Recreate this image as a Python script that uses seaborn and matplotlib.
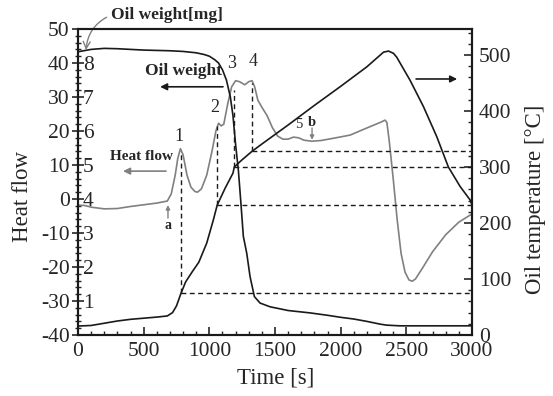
import matplotlib
matplotlib.use("Agg")
import matplotlib.pyplot as plt
import seaborn as sns
from matplotlib.ticker import MultipleLocator
from matplotlib.transforms import blended_transform_factory, offset_copy

# ---------------- data ----------------
hf_time = [0, 50, 100, 200, 300, 400, 500, 600, 680, 710, 740, 760, 780, 800, 830,
           860, 890, 910, 940, 980, 1020, 1050, 1070, 1090, 1110, 1140, 1170, 1200,
           1230, 1270, 1300, 1325, 1345, 1370, 1400, 1440, 1480, 1520, 1560, 1600,
           1640, 1680, 1720, 1780, 1850, 1950, 2072, 2200, 2300, 2338, 2352, 2370,
           2400, 2430, 2460, 2490, 2520, 2545, 2570, 2620, 2700, 2800, 2900, 3000]
hf_val = [-1.8, -1.9, -2.4, -2.9, -2.8, -2.2, -1.7, -1.2, -0.6, 1.5, 7, 12, 14.8, 13,
          7, 3.5, 2.2, 2, 3, 7, 14, 20, 22.3, 21.5, 22, 28, 33, 34.8, 34.5, 33.6,
          34.5, 34.8, 33, 29, 27, 24.5, 21, 18.5, 17.6, 17.6, 18.2, 18.0, 17.3, 17.0,
          17.2, 17.9, 18.8, 20.9, 22.5, 23.2, 22.5, 17, 6, -6, -16, -21.5, -23.8,
          -24.2, -23.5, -20.5, -15.5, -10.5, -6.8, -4.4]

# oil weight, expressed on the heat-flow scale (weight[mg] = (value + 40) / 10)
wt_time = [0, 100, 200, 300, 400, 500, 600, 700, 800, 900, 960, 1000, 1040, 1070,
           1100, 1130, 1160, 1180, 1200, 1221, 1240, 1259, 1285, 1310, 1343, 1386,
           1462, 1600, 1767, 1900, 2000, 2100, 2200, 2300, 2350, 2450, 3000]
wt_val = [43.3, 44.0, 44.3, 44.2, 44.0, 43.8, 43.7, 43.6, 43.4, 43.0, 42.5, 42.0,
          41.0, 40.0, 38.0, 35.0, 30.0, 24.5, 16.0, 8.5, -1.0, -11.0, -16.0, -22.8,
          -28.7, -30.6, -31.7, -32.8, -33.5, -34.2, -34.8, -35.3, -36.0, -36.8,
          -37.1, -37.3, -37.3]

temp_time = [0, 100, 200, 300, 400, 500, 600, 680, 720, 750, 785, 820, 870, 920,
             980, 1030, 1060, 1120, 1180, 1190, 1250, 1325, 1400, 1600, 1800, 2000,
             2200, 2326, 2364, 2402, 2427, 2528, 2630, 2732, 2820, 2910, 2986, 3000]
temp_val = [16, 17, 21, 25, 28, 30, 32, 34, 40, 52, 75, 95, 113, 130, 164, 205, 232,
            262, 289, 300, 313, 328, 341, 375, 410, 444, 479, 505, 507, 503, 496,
            455, 408, 354, 300, 265, 241, 232]

peak_time = [785, 1060, 1190, 1325]
peak_top = [13.5, 21.5, 32.0, 34.0]
peak_temp = [75, 232, 300, 328]
peak_labels = ["1", "2", "3", "4"]
peak_label_pos = [(769, 18.5), (1043, 26.8), (1173, 40.0), (1333, 40.3)]

hf_ticks = [-40, -30, -20, -10, 0, 10, 20, 30, 40, 50]
weight_ticks = [1, 2, 3, 4, 5, 6, 7, 8]
temp_ticks = [0, 100, 200, 300, 400, 500]
time_ticks = [0, 500, 1000, 1500, 2000, 2500, 3000]

# ---------------- style ----------------
sns.set_style("ticks")
plt.rcParams["font.family"] = ["Liberation Serif", "DejaVu Serif"]
plt.rcParams["axes.unicode_minus"] = False

HF_MIN, HF_MAX = -40, 50
T_MAX = 546.4
GRAY = "#808080"
DARK = "#1a1a1a"
TICK_FS = 15.5
LABEL_FS = 16.5


def t_to_hf(t):
    return HF_MIN + t * (HF_MAX - HF_MIN) / T_MAX


fig = plt.figure(figsize=(5.53, 3.96), dpi=100)
ax = fig.add_axes([78 / 553, 1 - 335 / 396, 394 / 553, 306 / 396])
ax2 = ax.twinx()

ax.set_xlim(0, 3000)
ax.set_ylim(HF_MIN, HF_MAX)
ax2.set_ylim(0, T_MAX)

sns.lineplot(x=hf_time, y=hf_val, ax=ax, color=GRAY, lw=1.2, estimator=None, sort=False)
sns.lineplot(x=wt_time, y=wt_val, ax=ax, color=DARK, lw=1.2, estimator=None, sort=False)
sns.lineplot(x=temp_time, y=temp_val, ax=ax2, color=DARK, lw=1.2, estimator=None, sort=False)

dash = (0, (3.5, 2.5))
for pt, top, tv in zip(peak_time, peak_top, peak_temp):
    ax.plot([pt, pt], [t_to_hf(tv), top], color=DARK, lw=1.0, ls=dash)
    ax2.plot([pt, 3000], [tv, tv], color=DARK, lw=1.0, ls=dash)

for lab, (x, y) in zip(peak_labels, peak_label_pos):
    ax.text(x, y, lab, ha="center", va="center", fontsize=13)

# ---------------- axes ----------------
ax.set_xticks(time_ticks)
ax.xaxis.set_minor_locator(MultipleLocator(100))
ax.set_yticks(hf_ticks)
ax.yaxis.set_minor_locator(MultipleLocator(2))
ax2.set_yticks(temp_ticks)
ax2.yaxis.set_minor_locator(MultipleLocator(20))

ax.tick_params(axis="x", which="major", direction="in", length=6, width=1.2,
               labelsize=TICK_FS, pad=5)
ax.tick_params(axis="x", which="minor", direction="in", length=3, width=1.0)
ax.tick_params(axis="y", which="major", direction="inout", length=8, width=1.2,
               labelsize=TICK_FS, pad=2)
ax.tick_params(axis="y", which="minor", direction="inout", length=5, width=1.0)
ax2.tick_params(axis="y", which="major", direction="in", length=6, width=1.2,
                labelsize=TICK_FS, pad=5)
ax2.tick_params(axis="y", which="minor", direction="in", length=3, width=1.0)

for a in (ax, ax2):
    for s in a.spines.values():
        s.set_linewidth(1.5)
        s.set_color(DARK)

trans_w = offset_copy(blended_transform_factory(ax.transAxes, ax.transData),
                      fig=fig, x=5, y=0, units="dots")
for w in weight_ticks:
    ax.text(0, w * 10 - 40, str(w), transform=trans_w, ha="left",
            va="center_baseline", fontsize=TICK_FS)

ax.set_xlabel("Time [s]", fontsize=LABEL_FS)
ax.set_ylabel("Heat flow", fontsize=LABEL_FS)
ax2.set_ylabel("Oil temperature [°C]", fontsize=LABEL_FS)
ax.xaxis.set_label_coords(0.503, -0.105)
ax.yaxis.set_label_coords(-0.115, 0.451)
ax2.yaxis.set_label_coords(1.135, 0.444)

# ---------------- annotations ----------------
ax.annotate("Oil weight[mg]", xy=(61, 43.8), xytext=(678, 54.1), ha="center",
            va="center", fontsize=12.5, fontweight="bold", annotation_clip=False,
            arrowprops=dict(arrowstyle="->", color=GRAY, lw=1.0, relpos=(0, 0.5),
                            connectionstyle="arc3,rad=0.3", shrinkA=1, shrinkB=0))

ax.text(800, 37.6, "Oil weight", ha="center", va="center", fontsize=12.5,
        fontweight="bold")
ax.annotate("", xy=(625, 33), xytext=(1104, 33),
            arrowprops=dict(arrowstyle="-|>", color=DARK, lw=1.2, mutation_scale=10,
                            shrinkA=0, shrinkB=0))

ax.text(480, 12.4, "Heat flow", ha="center", va="center", fontsize=11,
        fontweight="bold")
ax.annotate("", xy=(343, 8.2), xytext=(670, 8.2),
            arrowprops=dict(arrowstyle="-|>", color=GRAY, lw=1.2, mutation_scale=10,
                            shrinkA=0, shrinkB=0))

ax.annotate("", xy=(2887, 35.3), xytext=(2574, 35.3),
            arrowprops=dict(arrowstyle="-|>", color=DARK, lw=1.2, mutation_scale=10,
                            shrinkA=0, shrinkB=0))

ax.text(685, -7.8, "a", ha="center", va="center", fontsize=10, fontweight="bold")
ax.annotate("", xy=(685, -1.8), xytext=(685, -5.6),
            arrowprops=dict(arrowstyle="-|>", color=GRAY, lw=1.0, mutation_scale=6,
                            shrinkA=0, shrinkB=0))

ax.text(1683, 21.8, "5", ha="center", va="center", fontsize=10.5)
ax.text(1782, 22.6, "b", ha="center", va="center", fontsize=10.5, fontweight="bold")
ax.annotate("", xy=(1782, 17.4), xytext=(1782, 20.9),
            arrowprops=dict(arrowstyle="-|>", color=GRAY, lw=1.0, mutation_scale=6,
                            shrinkA=0, shrinkB=0))

fig.savefig("out.png", dpi=100)
